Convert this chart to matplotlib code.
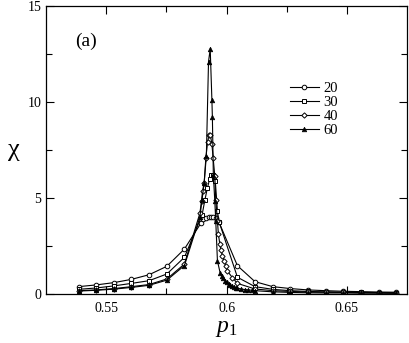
import matplotlib.pyplot as plt

plt.rcParams["font.family"] = "Liberation Serif"
plt.rcParams["mathtext.fontset"] = "custom"
plt.rcParams["mathtext.rm"] = "Liberation Serif"
plt.rcParams["mathtext.it"] = "Liberation Serif:italic"

# susceptibility chi vs p1 for different sizes
p20 = [0.5385, 0.5458, 0.5532, 0.5605, 0.5678, 0.5752, 0.5825, 0.5893, 0.5904,
       0.5914, 0.5925, 0.5934, 0.5944, 0.5955, 0.5969, 0.6045, 0.6118, 0.6192,
       0.6265, 0.6338, 0.6412, 0.6485, 0.6558, 0.6632, 0.6705]
chi20 = [0.38, 0.47, 0.59, 0.76, 1.00, 1.44, 2.34, 3.68, 3.88,
         3.97, 4.02, 4.03, 4.00, 3.93, 3.72, 1.47, 0.64, 0.38,
         0.28, 0.21, 0.17, 0.14, 0.12, 0.10, 0.09]

p30 = [0.5385, 0.5458, 0.5532, 0.5605, 0.5678, 0.5752, 0.5825, 0.5898, 0.5910,
       0.5920, 0.5930, 0.5937, 0.5943, 0.5948, 0.5953, 0.5962, 0.5969, 0.6045,
       0.6118, 0.6192, 0.6265, 0.6338, 0.6412, 0.6485, 0.6558, 0.6632, 0.6705]
chi30 = [0.24, 0.31, 0.42, 0.55, 0.69, 1.04, 1.91, 4.1, 4.9,
         5.5, 6.0, 6.2, 6.2, 6.1, 5.9, 4.3, 3.75, 0.87,
         0.38, 0.24, 0.17, 0.13, 0.11, 0.09, 0.08, 0.07, 0.06]

p40 = [0.5385, 0.5458, 0.5532, 0.5605, 0.5678, 0.5752, 0.5825, 0.5889, 0.5896,
       0.5900, 0.5907, 0.5914, 0.5921, 0.5927, 0.5933, 0.5939, 0.5944, 0.5951,
       0.5955, 0.5962, 0.5966, 0.5972, 0.5976, 0.5983, 0.5990, 0.5997, 0.6003,
       0.6024, 0.6045, 0.6118, 0.6192, 0.6265, 0.6338, 0.6412, 0.6485, 0.6558,
       0.6632, 0.6705]
chi40 = [0.17, 0.21, 0.28, 0.38, 0.49, 0.78, 1.56, 4.2, 4.86,
         5.34, 5.8, 7.1, 7.9, 8.29, 8.25, 7.8, 7.1, 6.15,
         4.9, 3.8, 3.1, 2.6, 2.3, 2.0, 1.7, 1.45, 1.2,
         0.85, 0.55, 0.26, 0.17, 0.13, 0.10, 0.09, 0.08, 0.07,
         0.06, 0.05]

p60 = [0.5385, 0.5458, 0.5532, 0.5605, 0.5678, 0.5752, 0.5825, 0.5889, 0.5898,
       0.5907, 0.5916, 0.5925, 0.5932, 0.5939, 0.5941, 0.5945, 0.5951, 0.5955,
       0.5962, 0.5973, 0.5980, 0.5987, 0.5994, 0.6001, 0.6008, 0.6015, 0.6022,
       0.6030, 0.6038, 0.6045, 0.6060, 0.6075, 0.6090, 0.6105, 0.6118, 0.6192,
       0.6265, 0.6338, 0.6412, 0.6485, 0.6558, 0.6632, 0.6705]
chi60 = [0.15, 0.19, 0.25, 0.34, 0.45, 0.72, 1.48, 4.0, 4.9,
         5.8, 7.2, 12.1, 12.75, 10.1, 9.2, 6.2, 4.85, 3.8,
         1.72, 1.11, 0.95, 0.82, 0.70, 0.60, 0.52, 0.46, 0.41,
         0.37, 0.33, 0.30, 0.26, 0.23, 0.21, 0.19, 0.17, 0.11,
         0.08, 0.06, 0.05, 0.05, 0.04, 0.04, 0.03]

fig = plt.figure(figsize=(4.09, 3.43), dpi=100)
ax = fig.add_axes([0.1125, 0.143, 0.883, 0.84])

ms = 3.3
ax.plot(p20, chi20, "-o", color="black", lw=0.8, ms=ms, mfc="white", mew=0.7, label="20")
ax.plot(p30, chi30, "-s", color="black", lw=0.8, ms=ms - 0.3, mfc="white", mew=0.7, label="30")
ax.plot(p40, chi40, "-D", color="black", lw=0.8, ms=ms - 0.6, mfc="white", mew=0.7, label="40")
ax.plot(p60, chi60, "-^", color="black", lw=0.8, ms=ms, mfc="black", mew=0.5, label="60")

ax.set_xlim(0.525, 0.675)
ax.set_ylim(0, 15)
ax.set_xticks([0.55, 0.6, 0.65])
ax.set_xticklabels(["0.55", "0.6", "0.65"])
ax.set_xticks([0.575, 0.625], minor=True)
ax.set_yticks([0, 5, 10, 15])
ax.set_yticks([2.5, 7.5, 12.5], minor=True)
ax.tick_params(which="both", direction="in", top=True, right=True, labelsize=10, width=0.8)
ax.tick_params(which="major", length=6)
ax.tick_params(which="minor", length=4)
ax.tick_params(axis="x", pad=6)
for s in ax.spines.values():
    s.set_linewidth(0.9)

ax.set_xlabel("$p_1$", fontsize=17, labelpad=2)
ax.set_ylabel("χ", fontsize=19, rotation=0, labelpad=10, va="center")
ax.text(0.08, 0.86, "(a)", transform=ax.transAxes, fontsize=14)

ax.legend(loc="upper left", bbox_to_anchor=(0.675, 0.735), frameon=False,
          fontsize=10.5, handlelength=2.0, handletextpad=0.3, labelspacing=0.05,
          borderpad=0, borderaxespad=0)

fig.savefig("out.png", dpi=100)
